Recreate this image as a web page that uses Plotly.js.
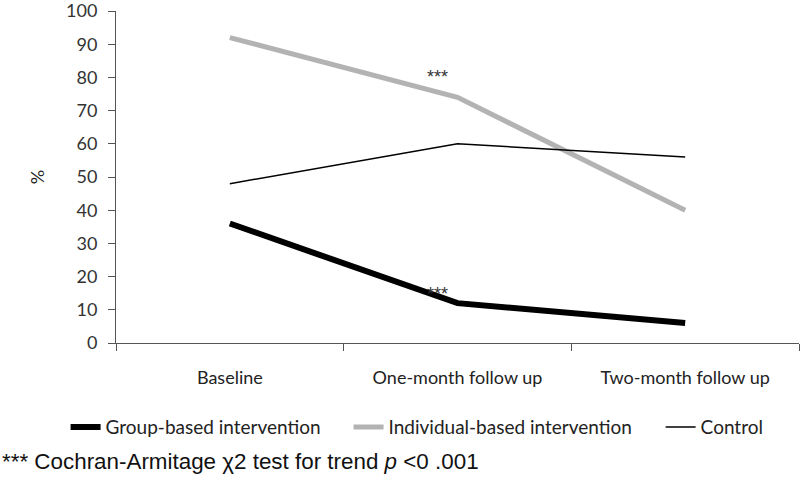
<!DOCTYPE html>
<html>
<head>
<meta charset="utf-8">
<script src="https://cdn.plot.ly/plotly-3.0.1.min.js"></script>
<style>
  body { margin: 0; background: #fff; }
  #chart { width: 800px; height: 490px; }
</style>
</head>
<body>
<div id="chart"></div>
<script>
var categories = ['Baseline', 'One-month follow up', 'Two-month follow up'];
var groupBased = [36, 12, 6];
var individualBased = [92, 74, 40];
var control = [48, 60, 56];
var yTicks = [0, 10, 20, 30, 40, 50, 60, 70, 80, 90, 100];

function legendBox(x){
	return {
	  orientation: 'h',
	  x: x,
	  y: -0.196,
	  xanchor: 'left',
	  yanchor: 'top',
	  font: {family: 'Lato, sans-serif', size: 19, color: '#222222'}
	};
}

function main(){
	var data = [{
	  x: categories,
	  y: groupBased,
	  name: 'Group-based intervention',
	  legend: 'legend',
	  type: 'scatter',
	  mode: 'lines',
	  line: {color: '#000000', width: 6}
	}, {
	  x: categories,
	  y: individualBased,
	  name: 'Individual-based intervention',
	  legend: 'legend2',
	  type: 'scatter',
	  mode: 'lines',
	  line: {color: '#b3b3b3', width: 5}
	}, {
	  x: categories,
	  y: control,
	  name: 'Control',
	  legend: 'legend3',
	  type: 'scatter',
	  mode: 'lines',
	  line: {color: '#000000', width: 1.5}
	}];

	var layout = {
	  width: 800,
	  height: 490,
	  margin: {l: 116, r: 1, t: 11, b: 147},
	  paper_bgcolor: '#ffffff',
	  plot_bgcolor: '#ffffff',
	  font: {family: 'Lato, "Open Sans", sans-serif', size: 18, color: '#333333'},
	  showlegend: true,
	  legend: legendBox(-0.0738),
	  legend2: legendBox(0.3405),
	  legend3: legendBox(0.7974),
	  xaxis: {
	    type: 'category',
	    range: [-0.5, 2.5],
	    showline: true,
	    linecolor: '#555555',
	    linewidth: 1,
	    showgrid: false,
	    zeroline: false,
	    ticks: 'outside',
	    tickson: 'boundaries',
	    ticklen: 7,
	    tickcolor: '#555555',
	    ticklabelstandoff: 18,
	    tickfont: {family: 'Lato, sans-serif', size: 18, color: '#222222'}
	  },
	  yaxis: {
	    range: [0, 100],
	    tickmode: 'array',
	    tickvals: yTicks,
	    ticktext: yTicks.map(String),
	    ticklabeloverflow: 'allow',
	    showline: true,
	    linecolor: '#555555',
	    linewidth: 1,
	    showgrid: false,
	    zeroline: false,
	    ticks: 'outside',
	    ticklen: 7,
	    tickcolor: '#555555',
	    ticklabelstandoff: 7,
	    tickfont: {family: 'Lato, sans-serif', size: 18, color: '#333333'},
	    title: {text: '%', font: {family: 'Lato, sans-serif', size: 18, color: '#222222'}, standoff: 16}
	  },
	  annotations: [
	    {
	      x: 'One-month follow up', y: individualBased[1],
	      xref: 'x', yref: 'y',
	      text: '***', showarrow: false,
	      xshift: -20, yshift: 20,
	      font: {family: '"Liberation Sans", Arial, sans-serif', size: 18, color: '#333333'}
	    },
	    {
	      x: 'One-month follow up', y: groupBased[1],
	      xref: 'x', yref: 'y',
	      text: '***', showarrow: false,
	      xshift: -20, yshift: 9,
	      font: {family: '"Liberation Sans", Arial, sans-serif', size: 18, color: '#333333'}
	    },
	    {
	      x: -116 / 683, y: (343 - 461) / 332,
	      xref: 'paper', yref: 'paper',
	      xanchor: 'left', yanchor: 'middle',
	      text: '*** Cochran-Armitage \u03c72 test for trend <i>p</i> &lt;0 .001',
	      showarrow: false,
	      font: {family: '"Liberation Sans", Arial, sans-serif', size: 22.4, color: '#111111'}
	    }
	  ]
	};

	Plotly.newPlot('chart', data, layout, {
		staticPlot: true,
		displayModeBar: false
	});
}

main();
</script>
</body>
</html>
